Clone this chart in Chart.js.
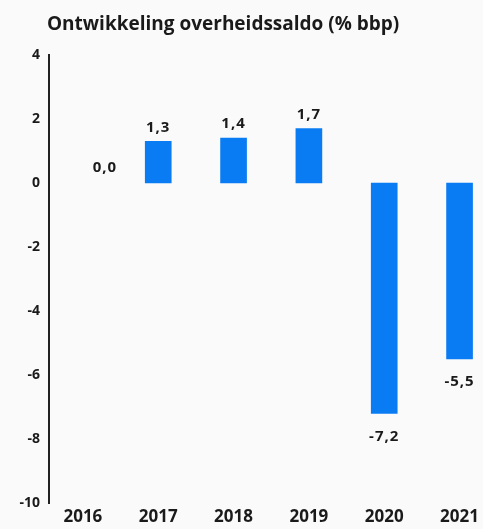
<!DOCTYPE html>
<html>
<head>
<meta charset="utf-8">
<script src="https://cdn.jsdelivr.net/npm/chart.js@4/dist/chart.umd.min.js"></script>
<style>
  html, body { margin: 0; padding: 0; background: #fafafa; }
  #wrap { width: 483px; height: 529px; position: relative; }
</style>
</head>
<body>
<div id="wrap"><canvas id="c" width="483" height="529"></canvas></div>
<script>
const titleText = 'Ontwikkeling overheidssaldo (% bbp)';
const categories = ['2016', '2017', '2018', '2019', '2020', '2021'];
const saldo = [0.0, 1.3, 1.4, 1.7, -7.2, -5.5];
const yTicks = [4, 2, 0, -2, -4, -6, -8, -10];

const textColor = '#1a1a1a';
const barColor = '#0a7cf3';
const fontFamily = '"Open Sans", "Lato", sans-serif';

const fmt = v => v.toFixed(1).replace('.', ',');

const bgPlugin = {
  id: 'bg',
  beforeDraw(chart) {
    const ctx = chart.ctx;
    ctx.save();
    ctx.fillStyle = '#fafafa';
    ctx.fillRect(0, 0, chart.width, chart.height);
    ctx.restore();
  }
};

const titlePlugin = {
  id: 'customTitle',
  afterDraw(chart) {
    const ctx = chart.ctx;
    ctx.save();
    ctx.font = 'bold 19px ' + fontFamily;
    ctx.fillStyle = textColor;
    ctx.textAlign = 'left';
    ctx.textBaseline = 'middle';
    ctx.fillText(titleText, 47, 25);
    ctx.restore();
  }
};

const labelPlugin = {
  id: 'valueLabels',
  afterDatasetsDraw(chart) {
    const ctx = chart.ctx;
    const meta = chart.getDatasetMeta(0);
    ctx.save();
    ctx.font = 'bold 15px ' + fontFamily;
    ctx.fillStyle = textColor;
    ctx.textAlign = 'center';
    ctx.textBaseline = 'middle';
    if ('letterSpacing' in ctx) ctx.letterSpacing = '1px';
    meta.data.forEach((bar, i) => {
      const v = saldo[i];
      let x = bar.x, y;
      if (v > 0) y = bar.y - 14;
      else if (v < 0) y = bar.y + 23;
      else { y = bar.y - 15; x = bar.x + 22; }
      ctx.fillText(fmt(v), x, y);
    });
    ctx.restore();
  }
};

new Chart(document.getElementById('c'), {
  type: 'bar',
  data: {
    datasets: [{
      data: saldo.map((v, i) => ({ x: i, y: v })),
      backgroundColor: c => (c.raw && c.raw.y === 0) ? 'rgba(0,0,0,0)' : barColor,
      borderWidth: 0,
      barThickness: 26
    }]
  },
  options: {
    responsive: false,
    animation: false,
    layout: { padding: { top: 55, right: 0, bottom: 0, left: 0 } },
    plugins: { legend: { display: false }, tooltip: { enabled: false }, title: { display: false } },
    scales: {
      x: {
        type: 'linear',
        min: -0.45,
        max: 5.31,
        offset: false,
        grid: { display: false, drawTicks: false },
        border: { display: false },
        afterBuildTicks: s => { s.ticks = categories.map((_, i) => ({ value: i })); },
        afterFit: s => { s.height = 26; },
        ticks: {
          autoSkip: false,
          maxRotation: 0,
          padding: 4,
          color: textColor,
          font: { family: fontFamily, size: 17, weight: 'bold' },
          callback: v => categories[v]
        }
      },
      y: {
        min: -10,
        max: 4,
        grid: { display: false, drawTicks: false },
        border: { display: true, color: '#222', width: 2 },
        afterBuildTicks: s => { s.ticks = yTicks.map(v => ({ value: v })); },
        afterFit: s => { s.width = 49; },
        ticks: {
          padding: 9,
          color: textColor,
          font: { family: fontFamily, size: 14, weight: 'bold' },
          callback: v => String(v)
        }
      }
    }
  },
  plugins: [bgPlugin, titlePlugin, labelPlugin]
});
</script>
</body>
</html>
